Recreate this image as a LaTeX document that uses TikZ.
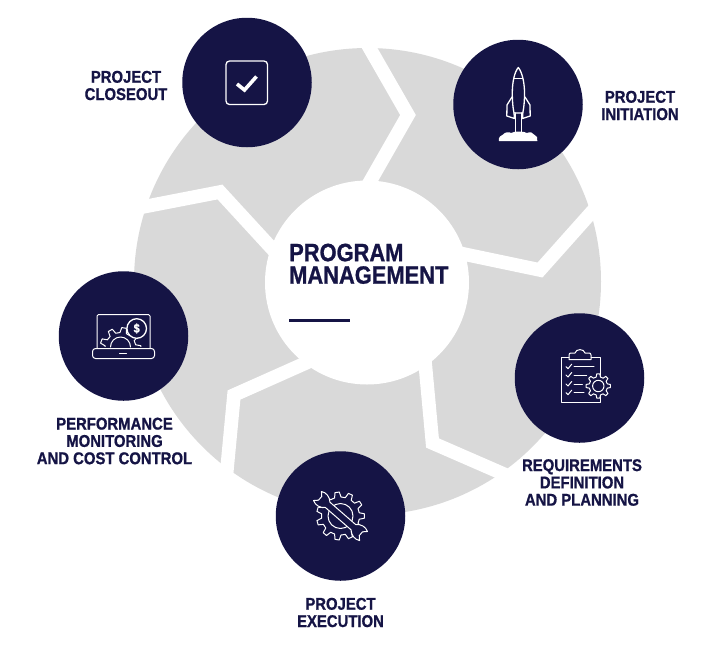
\documentclass[tikz,border=0pt]{standalone}
\usepackage{fontspec}
\setmainfont[FakeStretch=0.875,BoldFeatures={FakeBold=0.9}]{Liberation Sans}
\definecolor{navy}{HTML}{151445}
\definecolor{ringgray}{HTML}{D9D9D9}
\tikzset{
  disc/.style={circle,fill=navy,draw=none,minimum size=129.5pt,inner sep=0pt},
  gapline/.style={draw=white,line width=13.6pt,line join=miter,miter limit=10},
  label/.style={text=navy,font=\bfseries\fontsize{17}{17.3}\selectfont,align=center,inner sep=0pt},
  icon/.style={draw=white,line width=1.3pt,line join=round,line cap=round},
  thinicon/.style={draw=white,line width=1pt,line join=round,line cap=round},
}
% centre x, centre y, outer r, root r, teeth
\newcommand{\gearshape}[6][]{%
  \pgfmathsetmacro{\gstep}{360/#6}%
  \filldraw[thinicon,fill=navy,shift={(#2,#3)},#1] (-0.30*\gstep:#5)
    \foreach \gi in {1,...,#6}{
      -- ({(\gi-1)*\gstep-0.16*\gstep}:#4)
      -- ({(\gi-1)*\gstep+0.16*\gstep}:#4)
      -- ({(\gi-1)*\gstep+0.30*\gstep}:#5)
      -- ({\gi*\gstep-0.30*\gstep}:#5)
    } -- cycle;%
}
\begin{document}
\begin{tikzpicture}[x=1pt,y=-1pt]
\useasboundingbox (0,0) rectangle (713,657);
\fill[white] (0,0) rectangle (713,657);
% ring
\fill[ringgray] (367.5,281.5) circle[radius=233.5];
% white gaps
\path[gapline] (361,33) -- (408,115) -- (360,199);
\path[gapline] (606,196) -- (540,270) -- (440,249);
\path[gapline] (423,340) -- (432.5,443) -- (522,482);
\path[gapline] (326,354) -- (234,395) -- (225,490);
\path[gapline] (122,211) -- (220,192) -- (288,266);
% centre
\node[circle,fill=white,minimum size=204pt,inner sep=0pt] (hub) at (367,282.5) {};
\node[anchor=north west,text=navy,font=\bfseries\fontsize{25}{22.5}\selectfont,align=left,inner sep=0pt] (title) at (289,243.5) {PROGRAM\\MANAGEMENT};
\coordinate (ruleA) at (289,320.5);
\coordinate (ruleB) at (350,320.5);
\draw[navy,line width=3pt] (ruleA) -- (ruleB);
% discs
\node[disc] (closeout) at (247,82.5) {};
\node[disc] (initiation) at (518,104.5) {};
\node[disc] (planning) at (579.5,378) {};
\node[disc] (execution) at (340.5,516) {};
\node[disc] (monitoring) at (123.5,336) {};
% labels
\node[label] (lc) at (126,85.5) {PROJECT\\CLOSEOUT};
\node[label] (li) at (640,105.5) {PROJECT\\INITIATION};
\node[label] (lp) at (582,482.5) {REQUIREMENTS\\DEFINITION\\AND PLANNING};
\node[label] (le) at (340.5,612.5) {PROJECT\\EXECUTION};
\node[label] (lm) at (114.5,441) {PERFORMANCE\\MONITORING\\AND COST CONTROL};
% check box
\draw[draw=white,line width=1.3pt,rounded corners=3.5pt] (226,61) rectangle (267.5,104.5);
\draw[draw=white,line width=3.6pt] (237,84) -- (244.5,90) -- (256.5,76.5);
% rocket
\draw[icon] (518.3,67.5) .. controls (514.5,72) and (512.3,82) .. (512.3,93) .. controls (512.3,101) and (512.8,107) .. (514,113)
  -- (522.8,113) .. controls (524,107) and (524.5,101) .. (524.5,93) .. controls (524.5,82) and (522,72) .. (518.3,67.5) -- cycle;
\draw[icon] (514.2,78.5) -- (522.6,78.5);
\draw[icon] (512,97) -- (507,105) -- (506.8,116) -- (514.5,118.5) -- (514,113);
\draw[icon] (525,97) -- (530,105) -- (530.2,116) -- (522.5,118.5) -- (522.8,113);
\draw[icon] (515.3,113) -- (515.3,132);
\draw[icon] (521.7,113) -- (521.7,132);
\fill[white] (499,141) .. controls (498,137) and (501,135.5) .. (503,134.5) .. controls (505,132) and (509,131.5) .. (511,133)
  .. controls (514,131) and (524,131) .. (527,133) .. controls (530,131.5) and (533,132.5) .. (534,134.5)
  .. controls (537,135.5) and (538,138) .. (537.3,141) -- cycle;
% clipboard
\draw[thinicon] (569,357) -- (561,357) -- (561,402) -- (600,402) -- (600,357) -- (591,357);
\draw[thinicon] (569,359.5) -- (569,355) .. controls (569,353.5) and (570,353) .. (571,353) -- (575,353)
  .. controls (576,348.5) and (584,348.5) .. (585,353) -- (589,353) .. controls (590,353) and (591,353.5) .. (591,355) -- (591,359.5) -- cycle;
\foreach \cy/\cx in {366.7/594,375/586.7,384/582.3,392.7/584}{
  \draw[thinicon] (566,\cy) -- (568,\cy+2) -- (571.7,\cy-2.5);
  \draw[thinicon] (574,\cy) -- (\cx,\cy);
}
\gearshape{598.3}{386}{12.2}{9.2}{8}
\draw[thinicon] (598.3,386) circle[radius=5.7];
% wrench and gear
\gearshape{340.5}{516}{24}{19}{11}
\draw[thinicon] (340.5,516) circle[radius=12.5];
\begin{scope}[shift={(340.5,516)},rotate=-41]
  \filldraw[thinicon,fill=navy] (-27,-2.5) -- (-30.5,-6) .. controls (-26,-8.5) and (-21,-7.5) .. (-17,-3.5) -- (17,-3.5)
    .. controls (21,-7.5) and (26,-8.5) .. (30.5,-6) -- (27,-2.5) -- (27,2.5) -- (30.5,6)
    .. controls (26,8.5) and (21,7.5) .. (17,3.5) -- (-17,3.5)
    .. controls (-21,7.5) and (-26,8.5) .. (-30.5,6) -- (-27,2.5) -- cycle;
\end{scope}
% laptop
\draw[thinicon,rounded corners=1.5pt] (97,348) -- (97,314.5) -- (150,314.5) -- (150,348);
\draw[thinicon,rounded corners=3pt] (92.5,348.5) -- (154.5,348.5) -- (154.5,358.5) -- (92.5,358.5) -- cycle;
\draw[thinicon] (119.5,353.5) -- (126.5,353.5);
\begin{scope}
  \clip (90,300) rectangle (160,346.5);
  \gearshape{120.5}{348}{20.5}{15.5}{9}
\end{scope}
\draw[thinicon] (110.5,347) arc[start angle=180,end angle=360,radius=10];
\filldraw[icon,fill=navy] (136.7,328.5) circle[radius=9.8];
\node[inner sep=0pt,text=white,font=\bfseries\fontsize{12.5}{12.5}\selectfont] (dollar) at (136.7,328.5) {\$};
\end{tikzpicture}
\end{document}
